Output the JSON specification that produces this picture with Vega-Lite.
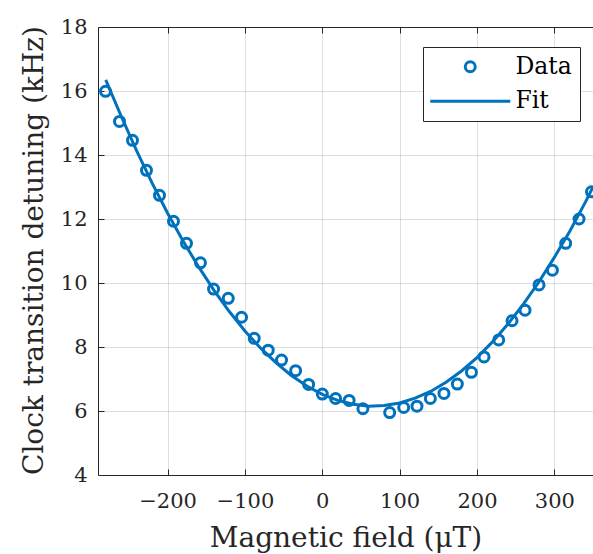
{
  "$schema": "https://vega.github.io/schema/vega-lite/v6.json",
  "width": 495,
  "height": 448,
  "autosize": {"type": "none"},
  "padding": {"left": 98, "top": 27, "right": 0, "bottom": 79},
  "background": "white",
  "config": {
    "view": {"stroke": "#262626", "strokeWidth": 1},
    "axis": {
      "labelFont": "DejaVu Serif",
      "labelFontSize": 21,
      "labelColor": "#262626",
      "titleFont": "DejaVu Serif",
      "titleFontSize": 28,
      "titleFontWeight": "normal",
      "titleColor": "#262626",
      "gridColor": "#262626",
      "gridOpacity": 0.15,
      "gridWidth": 1,
      "tickColor": "#262626",
      "tickSize": -6,
      "domain": false
    }
  },
  "datasets": {
    "pts": [
      {"B": -280.3, "D": 15.99, "series": "Data"},
      {"B": -262.2, "D": 15.05, "series": "Data"},
      {"B": -245.4, "D": 14.46, "series": "Data"},
      {"B": -227.3, "D": 13.52, "series": "Data"},
      {"B": -210.5, "D": 12.74, "series": "Data"},
      {"B": -192.4, "D": 11.93, "series": "Data"},
      {"B": -175.6, "D": 11.24, "series": "Data"},
      {"B": -157.5, "D": 10.63, "series": "Data"},
      {"B": -140.6, "D": 9.81, "series": "Data"},
      {"B": -121.6, "D": 9.52, "series": "Data"},
      {"B": -104.4, "D": 8.93, "series": "Data"},
      {"B": -88.0, "D": 8.27, "series": "Data"},
      {"B": -69.9, "D": 7.9, "series": "Data"},
      {"B": -52.7, "D": 7.59, "series": "Data"},
      {"B": -34.5, "D": 7.26, "series": "Data"},
      {"B": -17.7, "D": 6.83, "series": "Data"},
      {"B": 0.0, "D": 6.53, "series": "Data"},
      {"B": 17.2, "D": 6.39, "series": "Data"},
      {"B": 34.7, "D": 6.33, "series": "Data"},
      {"B": 52.5, "D": 6.07, "series": "Data"},
      {"B": 87.1, "D": 5.95, "series": "Data"},
      {"B": 105.2, "D": 6.11, "series": "Data"},
      {"B": 122.4, "D": 6.15, "series": "Data"},
      {"B": 139.7, "D": 6.39, "series": "Data"},
      {"B": 157.3, "D": 6.55, "series": "Data"},
      {"B": 174.6, "D": 6.84, "series": "Data"},
      {"B": 192.8, "D": 7.21, "series": "Data"},
      {"B": 209.1, "D": 7.69, "series": "Data"},
      {"B": 228.1, "D": 8.22, "series": "Data"},
      {"B": 245.3, "D": 8.82, "series": "Data"},
      {"B": 262.1, "D": 9.15, "series": "Data"},
      {"B": 280.2, "D": 9.94, "series": "Data"},
      {"B": 297.5, "D": 10.4, "series": "Data"},
      {"B": 314.7, "D": 11.24, "series": "Data"},
      {"B": 332.0, "D": 12.0, "series": "Data"},
      {"B": 348.0, "D": 12.85, "series": "Data"}
    ],
    "fit": [
      {"B": -280, "D": 16.35},
      {"B": -260, "D": 15.21},
      {"B": -240, "D": 14.13},
      {"B": -220, "D": 13.12},
      {"B": -200, "D": 12.18},
      {"B": -180, "D": 11.31},
      {"B": -160, "D": 10.51},
      {"B": -140, "D": 9.77},
      {"B": -120, "D": 9.1},
      {"B": -100, "D": 8.5},
      {"B": -80, "D": 7.97},
      {"B": -60, "D": 7.51},
      {"B": -40, "D": 7.11},
      {"B": -20, "D": 6.78},
      {"B": 0, "D": 6.52},
      {"B": 20, "D": 6.33},
      {"B": 40, "D": 6.21},
      {"B": 60, "D": 6.15},
      {"B": 80, "D": 6.17},
      {"B": 100, "D": 6.25},
      {"B": 120, "D": 6.4},
      {"B": 140, "D": 6.61},
      {"B": 160, "D": 6.9},
      {"B": 180, "D": 7.25},
      {"B": 200, "D": 7.67},
      {"B": 220, "D": 8.16},
      {"B": 240, "D": 8.72},
      {"B": 260, "D": 9.34},
      {"B": 280, "D": 10.03},
      {"B": 300, "D": 10.8},
      {"B": 320, "D": 11.62},
      {"B": 340, "D": 12.52},
      {"B": 350, "D": 13.0}
    ]
  },
  "layer": [
    {
      "data": {"name": "fit"},
      "mark": {"type": "line", "color": "#0072BD", "strokeWidth": 3, "clip": true},
      "encoding": {
        "x": {
          "field": "B", "type": "quantitative",
          "scale": {"domain": [-290, 350], "nice": false, "zero": false},
          "axis": {"orient": "bottom", "title": "Magnetic field (μT)", "values": [-200, -100, 0, 100, 200, 300], "labelPadding": 21, "titleBaseline": "alphabetic", "titleY": 71, "titleX": 247.5}
        },
        "y": {
          "field": "D", "type": "quantitative",
          "scale": {"domain": [4, 18], "nice": false, "zero": false},
          "axis": {"orient": "left", "title": "Clock transition detuning (kHz)", "values": [4, 6, 8, 10, 12, 14, 16, 18], "labelPadding": 17, "titleBaseline": "alphabetic", "titleX": -56, "titleY": 223}
        }
      }
    },
    {
      "data": {"name": "pts"},
      "mark": {"type": "point", "filled": false, "color": "#0072BD", "strokeWidth": 3, "size": 100, "opacity": 1, "clip": true},
      "encoding": {
        "x": {
          "field": "B", "type": "quantitative",
          "scale": {"domain": [-290, 350], "nice": false, "zero": false},
          "axis": {"orient": "top", "title": null, "labels": false, "grid": false, "values": [-200, -100, 0, 100, 200, 300]}
        },
        "y": {
          "field": "D", "type": "quantitative",
          "scale": {"domain": [4, 18], "nice": false, "zero": false},
          "axis": {"orient": "left", "title": "Clock transition detuning (kHz)", "values": [4, 6, 8, 10, 12, 14, 16, 18], "labelPadding": 17, "titleBaseline": "alphabetic", "titleX": -56, "titleY": 223}
        },
        "shape": {
          "field": "series", "type": "nominal",
          "scale": {"domain": ["Data", "Fit"], "range": ["circle", "M-8,0H8"]},
          "legend": {
            "orient": "none",
            "legendX": 325,
            "legendY": 20,
            "title": null,
            "padding": 8,
            "strokeColor": "#262626",
            "fillColor": "white",
            "cornerRadius": 0,
            "symbolSize": 100,
            "symbolOffset": 27.5,
            "symbolStrokeColor": "#0072BD",
            "symbolStrokeWidth": 3,
            "symbolFillColor": "transparent",
            "labelFont": "DejaVu Serif",
            "labelFontSize": 23.5,
            "labelColor": "black",
            "labelOffset": 33.5,
            "rowPadding": 9.5
          }
        }
      }
    }
  ],
  "resolve": {"axis": {"x": "independent"}}
}
